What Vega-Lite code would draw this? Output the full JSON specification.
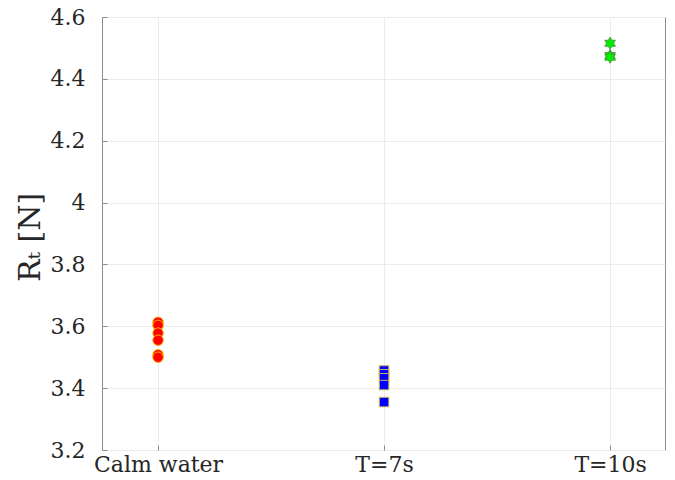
{
  "$schema": "https://vega.github.io/schema/vega-lite/v6.json",
  "width": 563,
  "height": 433,
  "autosize": {"type": "none"},
  "padding": {"left": 102, "top": 17, "right": 10, "bottom": 30},
  "background": "white",
  "config": {
    "view": {"stroke": "#8c8c8c", "strokeWidth": 1},
    "font": "DejaVu Serif",
    "axis": {
      "labelFont": "DejaVu Serif",
      "labelFontSize": 22,
      "labelColor": "#262626",
      "titleFont": "DejaVu Serif",
      "titleColor": "#262626",
      "titleFontWeight": "normal",
      "gridColor": "#ebebeb",
      "gridWidth": 1,
      "domain": false,
      "tickColor": "#8c8c8c",
      "tickSize": -5
    }
  },
  "data": {
    "values": [
      {"cond": 1, "group": "Calm water", "RT": 3.613},
      {"cond": 1, "group": "Calm water", "RT": 3.603},
      {"cond": 1, "group": "Calm water", "RT": 3.578},
      {"cond": 1, "group": "Calm water", "RT": 3.555},
      {"cond": 1, "group": "Calm water", "RT": 3.508},
      {"cond": 1, "group": "Calm water", "RT": 3.500},
      {"cond": 2, "group": "T=7s", "RT": 3.457},
      {"cond": 2, "group": "T=7s", "RT": 3.445},
      {"cond": 2, "group": "T=7s", "RT": 3.432},
      {"cond": 2, "group": "T=7s", "RT": 3.410},
      {"cond": 2, "group": "T=7s", "RT": 3.355},
      {"cond": 3, "group": "T=10s", "RT": 4.515},
      {"cond": 3, "group": "T=10s", "RT": 4.475},
      {"cond": 3, "group": "T=10s", "RT": 4.470}
    ]
  },
  "encoding": {
    "x": {
      "field": "cond",
      "type": "quantitative",
      "scale": {"domain": [0.752, 3.243], "nice": false, "zero": false},
      "axis": {
        "values": [1, 2, 3],
        "labelExpr": "datum.value == 1 ? 'Calm water' : datum.value == 2 ? 'T=7s' : 'T=10s'",
        "title": null,
        "labelPadding": 9,
        "labelFlush": false
      }
    },
    "y": {
      "field": "RT",
      "type": "quantitative",
      "scale": {"domain": [3.2, 4.6], "nice": false, "zero": false},
      "axis": {
        "values": [3.2, 3.4, 3.6, 3.8, 4.0, 4.2, 4.4, 4.6],
        "labelExpr": "format(datum.value, '.1~f')",
        "title": "Rₜ  [N]",
        "titleFontSize": 30,
        "titleAngle": -90,
        "titleX": -63,
        "titleY": 220,
        "titleAlign": "center",
        "titleBaseline": "alphabetic",
        "labelPadding": 22
      }
    }
  },
  "layer": [
    {
      "transform": [{"filter": "datum.group == 'Calm water'"}],
      "mark": {"type": "point", "shape": "circle", "filled": true, "fill": "#ff0000", "stroke": "#ffb000", "strokeWidth": 1, "size": 110, "opacity": 1}
    },
    {
      "transform": [{"filter": "datum.group == 'T=7s'"}],
      "mark": {"type": "point", "shape": "square", "filled": true, "fill": "#0000ff", "stroke": "#c8b450", "strokeWidth": 1, "size": 90, "opacity": 1}
    },
    {
      "transform": [{"filter": "datum.group == 'T=10s'"}],
      "mark": {"type": "point", "shape": "M0,-1L0.2887,-0.5L0.866,-0.5L0.577,0L0.866,0.5L0.2887,0.5L0,1L-0.2887,0.5L-0.866,0.5L-0.577,0L-0.866,-0.5L-0.2887,-0.5Z", "filled": true, "fill": "#00ee00", "stroke": "#4a8a3a", "strokeWidth": 0.8, "size": 150, "opacity": 1}
    }
  ]
}
